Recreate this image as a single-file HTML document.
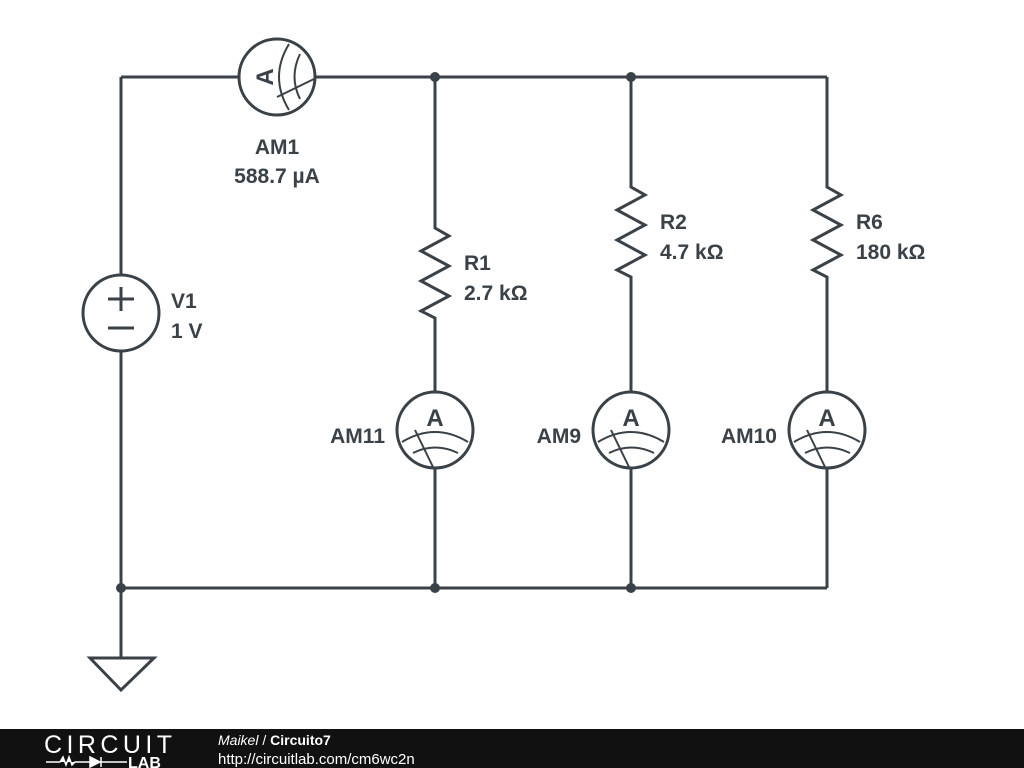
<!DOCTYPE html>
<html><head><style>body{margin:0;background:#fff}svg{display:block}</style></head><body>
<svg width="1024" height="768" viewBox="0 0 1024 768" xmlns="http://www.w3.org/2000/svg" font-family="Liberation Sans, sans-serif">
<defs>
<g id="am">
<circle cx="0" cy="0" r="38" fill="#fff" stroke="#3a4248" stroke-width="3"/>
<text x="0" y="-4" text-anchor="middle" font-size="24" font-weight="bold" fill="#3a4248">A</text>
<path d="M-33,12 Q0,-8 33,12 M-22,23 Q0,12 23,23 M-20,0 L-2,37" fill="none" stroke="#3a4248" stroke-width="2"/>
</g>
</defs>
<g stroke="#3a4248" stroke-width="3" fill="none">
<path d="M121,77 H827 M121,77 V690 M121,588 H827 M435,77 V588 M631,77 V588 M827,77 V588"/>
<path d="M90,658 H154 L121,690 Z" fill="#fff"/>
</g>
<g stroke="#3a4248" stroke-width="3" fill="#fff">
<rect x="420" y="222" width="30" height="102" stroke="none"/>
<rect x="616" y="181" width="30" height="102" stroke="none"/>
<rect x="812" y="181" width="30" height="102" stroke="none"/>
<path d="M435,222 L435,228 L449,236 L421,251 L449,266 L421,281 L449,296 L421,311 L435,318 V324" fill="none"/>
<path d="M631,181 L631,187 L645,195 L617,210 L645,225 L617,240 L645,255 L617,270 L631,277 V283" fill="none"/>
<path d="M827,181 L827,187 L841,195 L813,210 L841,225 L813,240 L841,255 L813,270 L827,277 V283" fill="none"/>
<circle cx="121" cy="313" r="38"/>
<path d="M108,299 H134 M121,287 V311 M108,328 H134" fill="none"/>
</g>
<g fill="#3a4248">
<circle cx="435" cy="77" r="5"/><circle cx="631" cy="77" r="5"/>
<circle cx="121" cy="588" r="5"/><circle cx="435" cy="588" r="5"/><circle cx="631" cy="588" r="5"/>
</g>
<use href="#am" transform="translate(277,77) rotate(-90)"/>
<use href="#am" transform="translate(435,430)"/>
<use href="#am" transform="translate(631,430)"/>
<use href="#am" transform="translate(827,430)"/>
<g font-size="21" font-weight="bold" fill="#3a4248">
<text x="277" y="154" text-anchor="middle">AM1</text>
<text x="277" y="183" text-anchor="middle">588.7 µA</text>
<text x="171" y="308">V1</text><text x="171" y="338">1 V</text>
<text x="464" y="270">R1</text><text x="464" y="300">2.7 kΩ</text>
<text x="660" y="229">R2</text><text x="660" y="259">4.7 kΩ</text>
<text x="856" y="229">R6</text><text x="856" y="259">180 kΩ</text>
<text x="385" y="443" text-anchor="end">AM11</text>
<text x="581" y="443" text-anchor="end">AM9</text>
<text x="777" y="443" text-anchor="end">AM10</text>
</g>
<rect x="0" y="729" width="1024" height="39" fill="#111"/>
<text x="44" y="753" font-size="25" fill="#fff" textLength="128">CIRCUIT</text>
<path d="M46,762 H60 L63,757 L66,765 L69,757 L72,765 L75,762 H90 M90,757 V767 L100,762 Z M101,757 V767 M101,762 H127" stroke="#fff" stroke-width="1.5" fill="#fff"/>
<text x="128" y="768" font-size="16" font-weight="bold" fill="#fff">LAB</text>
<text x="218" y="745" font-size="14" fill="#fff"><tspan font-style="italic">Maikel</tspan> / <tspan font-weight="bold">Circuito7</tspan></text>
<text x="218" y="764" font-size="15" fill="#fff">http://circuitlab.com/cm6wc2n</text>
</svg>
</body></html>
